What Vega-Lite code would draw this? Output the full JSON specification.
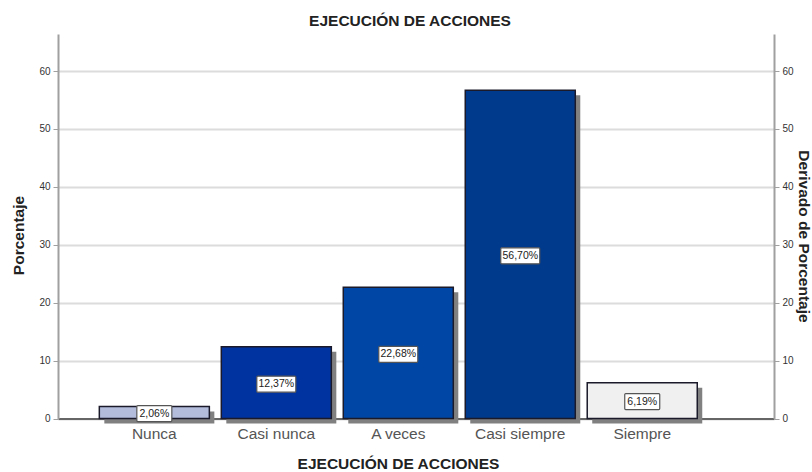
{
"$schema":"https://vega.github.io/schema/vega-lite/v6.json",
"width":716,"height":384.5,
"autosize":{"type":"none"},
"padding":{"left":58,"top":34,"right":38,"bottom":53.5},
"background":"white",
"config":{"view":{"stroke":null},"font":"Liberation Sans"},
"title":{"text":"EJECUCIÓN DE ACCIONES","fontSize":15.5,"fontWeight":"bold","color":"#222222","anchor":"middle","offset":5,"dx":-6,"font":"Liberation Sans"},
"data":{"values":[
{"categoria":"Nunca","porcentaje":2.06,"etiqueta":"2,06%"},
{"categoria":"Casi nunca","porcentaje":12.37,"etiqueta":"12,37%"},
{"categoria":"A veces","porcentaje":22.68,"etiqueta":"22,68%"},
{"categoria":"Casi siempre","porcentaje":56.70,"etiqueta":"56,70%"},
{"categoria":"Siempre","porcentaje":6.19,"etiqueta":"6,19%"}
]},
"encoding":{
"x":{"field":"categoria","type":"nominal","sort":null,
"scale":{"type":"band","paddingInner":0.098,"paddingOuter":0.484,"align":0.35},
"axis":{"title":"EJECUCIÓN DE ACCIONES","titleFontSize":15.5,"titleFontWeight":"bold","titleColor":"#222222","titleX":340,"titleY":38,"labelAngle":0,"labelFontSize":15.5,"labelColor":"#555555","labelPadding":8,"ticks":false,"domainColor":"#666666","domainWidth":2,"grid":false}}
},
"layer":[
{"mark":{"type":"bar","color":"#808080","xOffset":5,"yOffset":5,"y2Offset":5},
"encoding":{"y":{"field":"porcentaje","type":"quantitative","scale":{"domain":[0,66.4],"nice":false},
"axis":{"orient":"left","title":"Porcentaje","titleFontSize":15.5,"titleFontWeight":"bold","titleColor":"#222222","titleX":-32,"titleY":201,"values":[0,10,20,30,40,50,60],"labelFontSize":10,"labelColor":"#333333","tickSize":5,"tickColor":"#a0a0a0","labelPadding":3,"domainColor":"#a0a0a0","domainWidth":2,"grid":true,"gridColor":"#dcdcdc","gridWidth":2}}}},
{"mark":{"type":"bar","stroke":"#1a1a2a","strokeWidth":1.5},
"encoding":{"y":{"field":"porcentaje","type":"quantitative","scale":{"domain":[0,66.4],"nice":false},
"axis":{"orient":"right","title":"Derivado de Porcentaje","titleFontSize":15.5,"titleFontWeight":"bold","titleColor":"#222222","titleAngle":90,"titleX":21,"titleY":202,"values":[0,10,20,30,40,50,60],"labelFontSize":10,"labelColor":"#333333","tickSize":5,"tickColor":"#a0a0a0","labelPadding":3,"domainColor":"#a0a0a0","domainWidth":2,"grid":false}},
"color":{"field":"categoria","type":"nominal","sort":null,"legend":null,"scale":{"domain":["Nunca","Casi nunca","A veces","Casi siempre","Siempre"],"range":["#b3bcdb","#0033a0","#0047a5","#003a8c","#f0f0f0"]}}}},
{"transform":[{"filter":"datum.porcentaje < 10"}],
"mark":{"type":"rect","fill":"white","stroke":"#555555","strokeWidth":1.2,"width":35,"height":16,"cornerRadius":1,"yOffset":1},
"encoding":{"y":{"field":"porcentaje","type":"quantitative","scale":{"domain":[0,132.8],"nice":false},"axis":null}}},
{"transform":[{"filter":"datum.porcentaje >= 10"}],
"mark":{"type":"rect","fill":"white","stroke":"#555555","strokeWidth":1.2,"width":39,"height":16,"cornerRadius":1,"yOffset":1.5},
"encoding":{"y":{"field":"porcentaje","type":"quantitative","scale":{"domain":[0,132.8],"nice":false},"axis":null}}},
{"mark":{"type":"text","fontSize":10.5,"color":"#222222","align":"center","baseline":"middle","yOffset":1.5},
"encoding":{"y":{"field":"porcentaje","type":"quantitative","scale":{"domain":[0,132.8],"nice":false},"axis":null},"text":{"field":"etiqueta"}}}
],
"resolve":{"scale":{"y":"independent","color":"independent"},"axis":{"y":"independent"}}
}
